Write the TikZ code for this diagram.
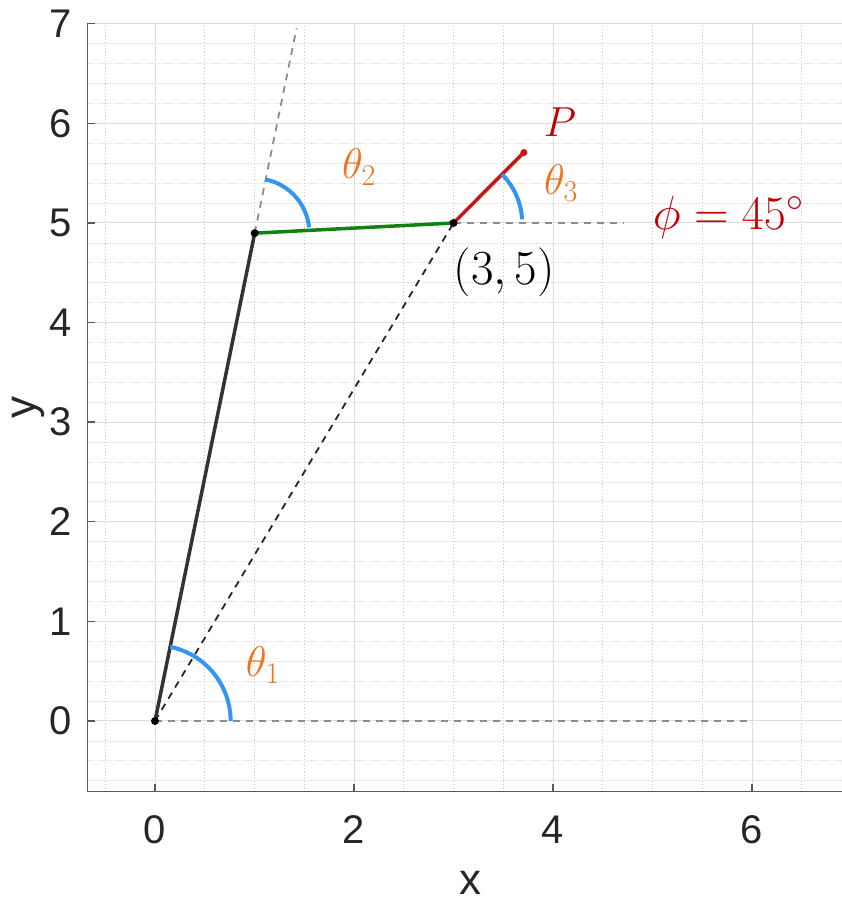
\RequirePackage{fix-cm}
\documentclass[tikz,border=0pt]{standalone}
\usepackage{fontspec}
\setsansfont{Liberation Sans}
\usetikzlibrary{calc}
\definecolor{arcblue}{RGB}{50,150,240}
\definecolor{labor}{RGB}{240,115,30}
\definecolor{labred}{RGB}{192,0,0}
\definecolor{linkred}{RGB}{205,20,20}
\definecolor{linkgreen}{RGB}{15,130,15}
\begin{document}
\begin{tikzpicture}[x=99.5pt,y=99.6pt,
  majgrid/.style={draw=black!13, line width=1pt},
  mingrid/.style={draw=black!18, line width=0.8pt, dash pattern=on 1.2pt off 2pt},
  axisline/.style={draw=black!65, line width=1.4pt},
  ticklab/.style={font=\sffamily\fontsize{40}{48}\selectfont, text=black!85, inner sep=0pt},
  axlab/.style={font=\sffamily\fontsize{44}{52}\selectfont, text=black!85, inner sep=0pt},
  guide/.style={draw=black!45, line width=1.8pt, dash pattern=on 7pt off 6pt},
  diag/.style={draw=black!85, line width=1.8pt, dash pattern=on 7pt off 6pt},
  link/.style={line width=3.5pt},
  anglearc/.style={draw=arcblue, line width=4pt},
  anglelab/.style={text=labor, font=\fontsize{43}{50}\selectfont, inner sep=0pt},
  jointdot/.style={circle, fill=black, minimum size=8pt, inner sep=0pt},
  enddot/.style={circle, fill=linkred, minimum size=7pt, inner sep=0pt}
]
\useasboundingbox (-1.5578,-1.8474) rectangle (6.9045,7.2390);
% minor grid
\foreach \gx in {-0.5,0.5,1,1.5,2.5,3,3.5,4.5,5,5.5,6.5}
  \draw[mingrid] (\gx,-0.71) -- (\gx,7);
\foreach \gy in {-0.6,-0.4,-0.2,0.2,0.4,0.6,0.8,1.2,1.4,1.6,1.8,2.2,2.4,2.6,2.8,3.2,3.4,3.6,3.8,4.2,4.4,4.6,4.8,5.2,5.4,5.6,5.8,6.2,6.4,6.6,6.8}
  \draw[mingrid] (-0.68,\gy) -- (6.9045,\gy);
% major grid
\foreach \gx in {0,2,4,6}
  \draw[majgrid] (\gx,-0.71) -- (\gx,7);
\foreach \gy in {0,...,7}
  \draw[majgrid] (-0.68,\gy) -- (6.9045,\gy);
% axes
\draw[axisline] (-0.68,7) -- (-0.68,-0.71) -- (6.9045,-0.71);
\foreach \gy in {0,...,7}{
  \draw[axisline] (-0.68,\gy) -- ++(8pt,0);
  \node[ticklab, anchor=east] (yl\gy) at (-0.83,\gy) {\gy};
}
\foreach \gx in {0,2,4,6}{
  \draw[axisline] (\gx,-0.71) -- ++(0,8pt);
  \node[ticklab] (xl\gx) at (\gx,-1.094) {\gx};
}
\node[axlab, anchor=base] (xlab) at (3.166,-1.74) {x};
\node[axlab, anchor=base, rotate=90] (ylab) at (-1.196,3.15) {y};
% joints
\coordinate (O) at (0,0);
\coordinate (J1) at (1.002,4.898);
\coordinate (J2) at (3,5);
\coordinate (Pt) at (3.7071,5.7071);
\coordinate (E1) at ($(O)!1.42!(J1)$);
\coordinate (H0) at (6,0);
\coordinate (H2) at (4.7,5);
% guide lines
\draw[guide] (O) -- (H0);
\draw[guide] (J2) -- (H2);
\draw[guide] (J1) -- (E1);
\draw[diag] (O) -- (J2);
% links
\draw[link, draw=black!80] (O) -- (J1);
\draw[link, draw=linkgreen] (J1) -- (J2);
\draw[link, draw=linkred] (J2) -- (Pt);
% angle arcs
\draw[anglearc] ([shift={(0:0.76)}]O) arc[start angle=0, end angle=78.44, radius=0.76];
\draw[anglearc] ([shift={(78.44:0.55)}]J1) arc[start angle=78.44, end angle=6, radius=0.55];
\draw[anglearc] ([shift={(45:0.69)}]J2) arc[start angle=45, end angle=3, radius=0.69];
% dots
\node[jointdot] (dO) at (O) {};
\node[jointdot] (dJ1) at (J1) {};
\node[jointdot] (dJ2) at (J2) {};
\node[enddot] (dP) at (Pt) {};
% labels
\node[anglelab] (t1) at (1.085,0.562) {$\theta_1$};
\node[anglelab] (t2) at (2.05,5.56) {$\theta_2$};
\node[anglelab] (t3) at (4.08,5.40) {$\theta_3$};
\node[text=labred, font=\fontsize{42}{50}\selectfont, inner sep=0pt] (Plab) at (4.07,6.01) {$P$};
\node[text=labred, font=\fontsize{48}{56}\selectfont, inner sep=0pt] (phi) at (5.76,5.06) {$\phi = 45^\circ$};
\node[text=black, font=\fontsize{49}{58}\selectfont, inner sep=0pt] (j2lab) at (3.51,4.51) {$(3,5)$};
\end{tikzpicture}
\end{document}
